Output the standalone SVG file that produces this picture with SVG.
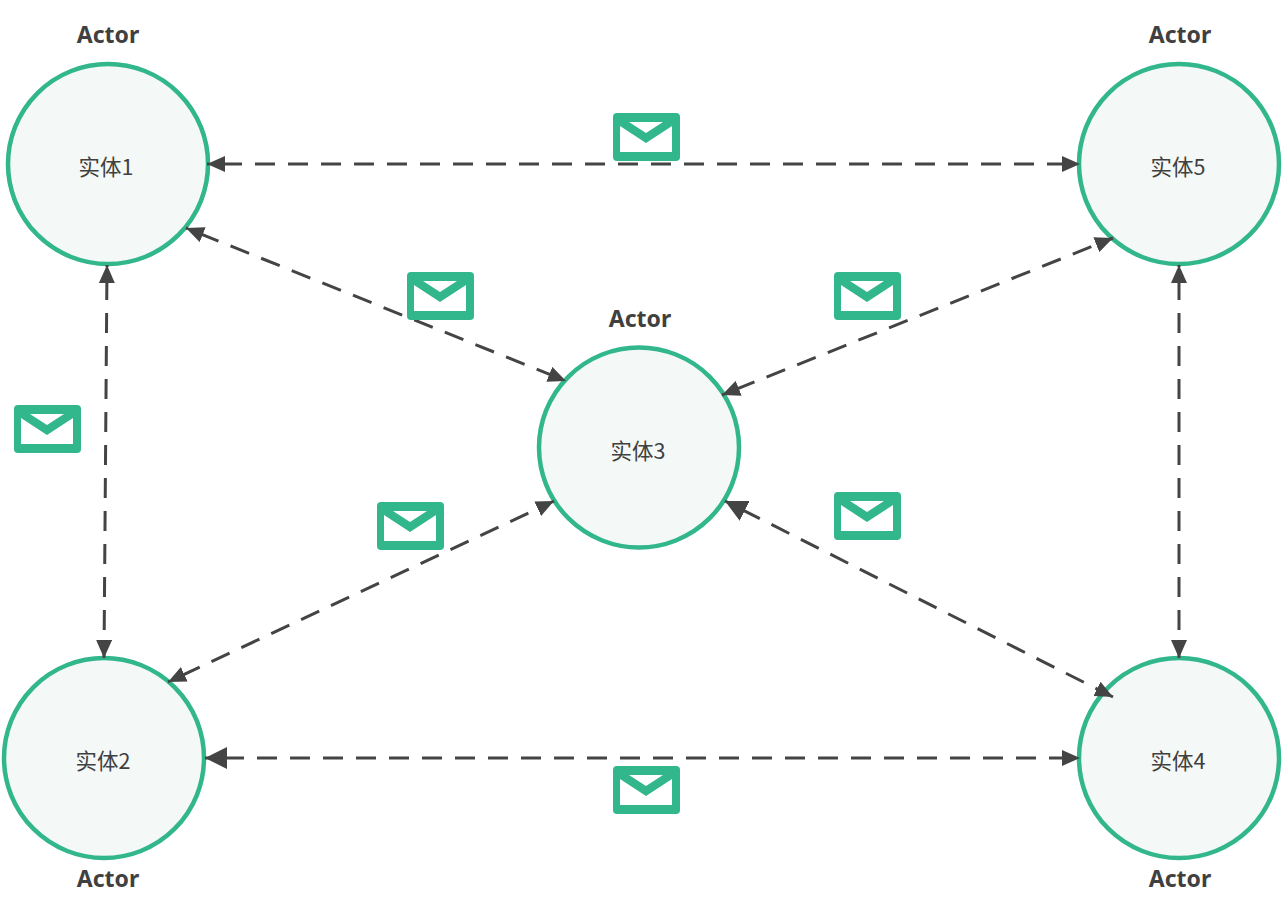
<svg xmlns="http://www.w3.org/2000/svg" width="1282" height="911" viewBox="0 0 1282 911">
<style>
.node{fill:#f4f8f7;stroke:#32b68c;stroke-width:4.500}
.lbl{font-family:"Noto Sans CJK SC","Noto Sans",sans-serif;font-size:21.500px;fill:#404040;text-anchor:middle}
.act{font-family:"Noto Sans","Liberation Sans",sans-serif;font-size:23px;font-weight:700;fill:#404040;text-anchor:middle}
.conn{fill:none;stroke:#444;stroke-width:3;stroke-dasharray:20 13;stroke-dashoffset:-15}
.big{marker-start:url(#ab);marker-end:url(#a);stroke-dashoffset:-19}
.std{marker-start:url(#a);marker-end:url(#a)}
</style>
<defs>
<marker id="a" markerUnits="userSpaceOnUse" markerWidth="19" markerHeight="16" refX="18" refY="8" orient="auto-start-reverse"><path d="M0 0L18 8L0 16z" fill="#444"/></marker>
<marker id="ab" markerUnits="userSpaceOnUse" markerWidth="23" markerHeight="22" refX="22" refY="11" orient="auto-start-reverse"><path d="M0 0L22 11L0 22z" fill="#444"/></marker>
<g id="mail">
<rect x="0" y="0" width="67" height="48" rx="4" fill="#32b68c"/>
<path d="M7 13L33 30L59 13V39H7z" fill="#fff"/>
<path d="M16 9H50L33 20z" fill="#fff"/>
</g>
</defs>
<g id="node1"><circle class="node" cx="108" cy="164" r="100"/><text class="lbl" x="106" y="175">实体1</text><text class="act" x="108" y="43">Actor</text></g>
<g id="node5"><circle class="node" cx="1179" cy="164" r="100"/><text class="lbl" x="1178" y="175">实体5</text><text class="act" x="1180" y="43">Actor</text></g>
<g id="node3"><circle class="node" cx="639" cy="447.500" r="100"/><text class="lbl" x="638" y="459">实体3</text><text class="act" x="640" y="327">Actor</text></g>
<g id="node2"><circle class="node" cx="104" cy="758" r="100"/><text class="lbl" x="103" y="769">实体2</text><text class="act" x="108" y="887">Actor</text></g>
<g id="node4"><circle class="node" cx="1179" cy="758" r="100"/><text class="lbl" x="1178" y="769">实体4</text><text class="act" x="1180" y="887">Actor</text></g>
<g id="connectors">
<path class="conn std" d="M207 164H1080"/>
<path class="conn std" d="M186 228L566 381"/>
<path class="conn std" d="M722 395L1113 238"/>
<path class="conn std" d="M107 265L104 658"/>
<path class="conn std" d="M1179 265V658"/>
<path class="conn std" d="M168 682L554 501"/>
<path class="conn big" d="M725 501L1113 697"/>
<path class="conn big" d="M205 758H1080"/>
</g>
<g id="messages">
<use href="#mail" x="613" y="113"/>
<use href="#mail" x="407" y="272"/>
<use href="#mail" x="834" y="272"/>
<use href="#mail" x="14" y="405"/>
<use href="#mail" x="377" y="502"/>
<use href="#mail" x="834" y="492"/>
<use href="#mail" x="613" y="766"/>
</g>
</svg>
